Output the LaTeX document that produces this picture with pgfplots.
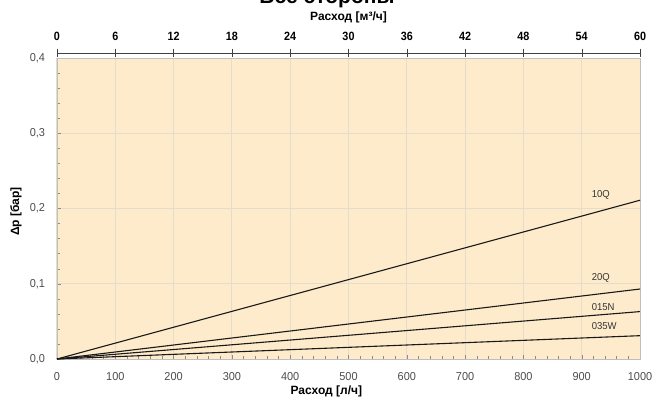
\documentclass[border=0pt]{standalone}
\usepackage{pgfplots}
\pgfplotsset{compat=1.18}
\usepackage{fontspec}
\setmainfont{Liberation Sans}
\newfontfamily\nb[FakeStretch=0.9]{Liberation Sans}
\newfontfamily\nr[FakeStretch=0.95]{Liberation Sans}
\definecolor{bg}{HTML}{FDEBCB}
\definecolor{gridc}{HTML}{E6DCCB}
\begin{document}
\begin{tikzpicture}
\begin{axis}[
  scale only axis, width=583pt, height=301pt, at={(0,0)}, anchor=south west,
  xmin=0, xmax=1000, ymin=0, ymax=0.4,
  axis background/.style={fill=bg},
  xtick={0,100,...,1000}, ytick={0,0.1,0.2,0.3,0.4},
  minor x tick num=4, minor y tick num=4,
  tick align=inside, major tick length=4pt, minor tick length=3pt,
  tick style={black!45, thin},
  xtick pos=bottom, ytick pos=left,
  grid=major, major grid style={gridc, line width=1pt},
  axis line style={black!25},
  xticklabel={\pgfmathprintnumber[assume math mode=true,1000 sep={}]{\tick}},
  yticklabel={\pgfmathprintnumber[assume math mode=true,use comma,fixed,fixed zerofill,precision=1]{\tick}},
  ticklabel style={font=\nr\fontsize{11.5}{13}\selectfont, text=black!70},
  xticklabel style={yshift=-10pt},
  yticklabel style={xshift=-8.5pt},
  xlabel={Расход [л/ч]}, ylabel={Δp [бар]},
  label style={font=\bfseries\fontsize{12}{14}\selectfont},
  xlabel style={at={(axis description cs:0.462,0)}, anchor=center, yshift=-32pt},
  ylabel style={at={(axis description cs:0,0.49)}, anchor=center, yshift=41pt},
]
\addplot[black!90, line width=1.1pt] coordinates {(0,0) (1000,0.211)};
\addplot[black!90, line width=1.1pt] coordinates {(0,0) (1000,0.093)};
\addplot[black!90, line width=1.1pt] coordinates {(0,0) (1000,0.063)};
\addplot[black!90, line width=1.1pt] coordinates {(0,0) (1000,0.031)};
\node[anchor=west, font=\nr\fontsize{10}{11}\selectfont, text=black!80, inner sep=0pt] at (axis cs:917,0.218) {10Q};
\node[anchor=west, font=\nr\fontsize{10}{11}\selectfont, text=black!80, inner sep=0pt] at (axis cs:917,0.108) {20Q};
\node[anchor=west, font=\nr\fontsize{10}{11}\selectfont, text=black!80, inner sep=0pt] at (axis cs:917,0.069) {015N};
\node[anchor=west, font=\nr\fontsize{10}{11}\selectfont, text=black!80, inner sep=0pt] at (axis cs:917,0.044) {035W};
\end{axis}
\begin{axis}[
  scale only axis, width=583pt, height=1pt, at={(0,305pt)}, anchor=south west,
  xmin=0, xmax=60, ymin=0, ymax=1, clip=false,
  hide y axis, axis x line*=top,
  xtick={0,6,...,60}, xtick align=center, major tick length=9pt,
  tick style={black!75, thin}, axis line style={black!75, thin},
  xticklabel={\pgfmathprintnumber[assume math mode=true]{\tick}},
  xticklabel style={font=\nb\bfseries\fontsize{12}{14}\selectfont, yshift=4pt},
  xlabel={Расход [м³/ч]},
  xlabel style={font=\bfseries\fontsize{12}{14}\selectfont, at={(axis description cs:0.5,1)}, anchor=center, yshift=36pt},
]
\addplot[draw=none] coordinates {(0,0) (60,1)};
\node[font=\bfseries\fontsize{21}{24}\selectfont, anchor=base, yshift=49pt] at (axis description cs:0.463,1) {Все стороны};
\end{axis}
\pgfresetboundingbox
\useasboundingbox (-57pt,-40pt) rectangle (596pt,359pt);
\end{tikzpicture}
\end{document}
